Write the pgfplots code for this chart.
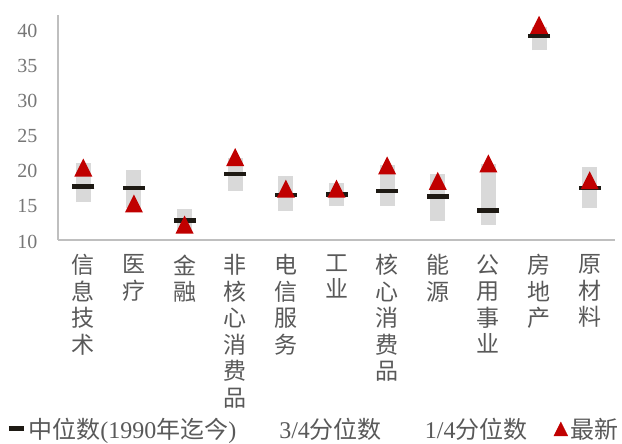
\documentclass[border=0pt]{standalone}
\usepackage{pgfplots}
\pgfplotsset{compat=1.18}
\usepackage{pgfplotstable}
\usepackage{fontspec}
\setmainfont{Liberation Serif}
\newfontfamily\cjk{Noto Sans CJK SC}

\definecolor{iqr}{HTML}{D9D9D9}
\definecolor{medc}{HTML}{1E1A14}
\definecolor{lastc}{HTML}{C00000}
\definecolor{axc}{HTML}{BFBFBF}
\definecolor{txt}{HTML}{595959}
\definecolor{tickc}{HTML}{767676}

% upright isosceles triangle centred on the data point
\pgfdeclareplotmark{uptri}{%
  \pgfpathmoveto{\pgfqpoint{0pt}{\pgfplotmarksize}}%
  \pgfpathlineto{\pgfqpoint{-\pgfplotmarksize}{-\pgfplotmarksize}}%
  \pgfpathlineto{\pgfqpoint{\pgfplotmarksize}{-\pgfplotmarksize}}%
  \pgfpathclose\pgfusepathqfill}

% sector valuation: quartiles, median since 1990 and latest value
\pgfplotstableread{
x  q1   q3   med  last
0  15.4 21.0 17.6 20.3
1  14.5 20.0 17.4 15.2
2  11.5 14.4 12.8 12.2
3  17.0 21.6 19.4 21.8
4  14.1 19.1 16.4 17.3
5  14.9 18.1 16.5 17.3
6  14.9 20.6 17.0 20.6
7  12.7 19.4 16.2 18.4
8  12.2 20.8 14.2 20.9
9  37.0 40.3 39.0 40.6
10 14.5 20.4 17.4 18.5
}\sectors

\begin{document}
\begin{tikzpicture}
\path[use as bounding box] (0,0) rectangle (622pt,444pt);
\begin{axis}[
  at={(58pt,204pt)}, anchor=south west,
  scale only axis, width=557pt, height=225pt,
  xmin=-0.5, xmax=10.5, ymin=10, ymax=42,
  ytick={10,15,...,40},
  xtick={0,...,10},
  xticklabels={{信\\息\\技\\术},{医\\疗},{金\\融},{非\\核\\心\\消\\费\\品},{电\\信\\服\\务},{工\\业},{核\\心\\消\\费\\品},{能\\源},{公\\用\\事\\业},{房\\地\\产},{原\\材\\料}},
  axis x line*=bottom, axis y line*=left,
  axis line style={axc, line width=1.3pt},
  major tick length=0pt,
  clip=false,
  /pgf/number format/assume math mode=true,
  yticklabel style={font=\fontsize{20}{24}\selectfont, text=tickc, xshift=-17pt, yshift=-1.5pt},
  xticklabel style={font=\fontsize{23}{26.5}\selectfont\cjk, text=txt, align=center, anchor=north, yshift=-11pt},
  legend columns=4,
  legend style={at={(-0.0985,-0.84)}, anchor=west, draw=none, fill=none,
    font=\fontsize{24}{26}\selectfont, text=txt,
    /tikz/every even column/.append style={column sep=24pt}},
]
% interquartile range as a wide vertical stroke from q1 up to q3
\addplot[forget plot, draw=none, mark=none,
  error bars/.cd, y dir=plus, y explicit, error mark=none,
  error bar style={draw=iqr, line width=15pt}]
  table[x=x, y=q1, y error expr=\thisrow{q3}-\thisrow{q1}] {\sectors};

\addplot[only marks, mark=-, mark size=11pt, mark options={draw=medc, line width=4.5pt},
  legend image code/.code={\draw[medc, line width=5pt] (0pt,0pt) -- (15pt,0pt);}]
  table[x=x, y=med] {\sectors};
\addlegendentry{{\cjk 中位数}(1990{\cjk 年迄今})}

\addplot[draw=none, mark=none,
  legend image code/.code={\path (0pt,0pt) -- (15pt,0pt);}]
  table[x=x, y=q3] {\sectors};
\addlegendentry{3/4{\cjk 分位数}}

\addplot[draw=none, mark=none,
  legend image code/.code={\path (0pt,0pt) -- (15pt,0pt);}]
  table[x=x, y=q1] {\sectors};
\addlegendentry{1/4{\cjk 分位数}}

\addplot[only marks, mark=uptri, mark size=9pt, color=lastc,
  legend image code/.code={\fill[lastc] (7pt,7pt) -- (0pt,-7pt) -- (14pt,-7pt) -- cycle;}]
  table[x=x, y=last] {\sectors};
\addlegendentry{{\cjk 最新}}
\end{axis}
\end{tikzpicture}
\end{document}
